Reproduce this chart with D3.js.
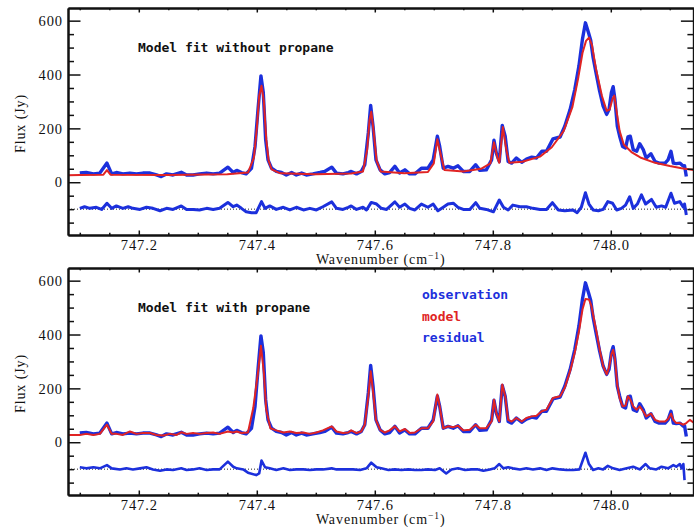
<!DOCTYPE html>
<html>
<head>
<meta charset="utf-8">
<script src="https://cdn.jsdelivr.net/npm/d3@7"></script>
<style>
  body { margin: 0; background: #fff; }
  svg { display: block; }
  .tick-label { font-family: "Liberation Serif", serif; font-size: 14.5px; letter-spacing: 0.9px; fill: #111; }
  .axis-title { font-family: "Liberation Serif", serif; font-size: 14px; letter-spacing: 0.9px; fill: #111; }
  .panel-title { font-family: "DejaVu Sans Mono", monospace; font-weight: bold; font-size: 13px; fill: #111; }
</style>
</head>
<body>
<svg id="chart" width="694" height="527"></svg>
<script>
// Axis ticks and text
const xMajorTicks = [747.2, 747.4, 747.6, 747.8, 748.0];
const yMajorTicks = [0, 200, 400, 600];
const panelTitles = ["Model fit without propane", "Model fit with propane"];
const legendLabels = ["observation", "model", "residual"];
const residualOffset = -100;

// Observed spectrum: [wavenumber (cm-1), flux (Jy)]
const observation = [
  [747.100,34],[747.111,36],[747.123,31],[747.134,34],[747.146,71],[747.154,31],[747.162,36],
  [747.173,31],[747.185,34],[747.196,31],[747.207,34],[747.219,34],[747.230,27],[747.238,21],
  [747.247,31],[747.258,27],[747.272,37],[747.281,27],[747.292,27],[747.303,31],[747.315,34],
  [747.326,31],[747.337,34],[747.351,56],[747.360,36],[747.366,44],[747.374,36],[747.382,31],
  [747.391,52],[747.397,133],[747.402,270],[747.407,395],[747.411,333],[747.415,158],[747.419,83],
  [747.425,52],[747.433,40],[747.442,36],[747.450,27],[747.459,36],[747.467,27],[747.476,34],
  [747.484,27],[747.495,31],[747.507,36],[747.515,40],[747.527,56],[747.535,34],[747.546,31],
  [747.555,36],[747.560,40],[747.569,31],[747.577,40],[747.583,65],[747.589,183],[747.593,285],
  [747.597,208],[747.602,83],[747.609,46],[747.617,31],[747.625,36],[747.634,59],[747.642,34],
  [747.651,46],[747.659,31],[747.668,31],[747.679,52],[747.690,52],[747.699,83],[747.706,171],
  [747.710,133],[747.716,52],[747.724,59],[747.733,52],[747.741,61],[747.750,40],[747.761,40],
  [747.771,65],[747.778,44],[747.789,46],[747.798,83],[747.802,156],[747.806,108],[747.811,77],
  [747.816,211],[747.821,171],[747.826,77],[747.832,71],[747.840,90],[747.849,74],[747.857,86],
  [747.866,93],[747.874,90],[747.883,115],[747.891,115],[747.902,161],[747.914,168],[747.922,208],
  [747.931,270],[747.939,345],[747.946,432],[747.952,532],[747.957,592],[747.962,557],[747.966,526],
  [747.970,463],[747.976,395],[747.981,339],[747.987,283],[747.993,252],[747.997,270],[748.001,333],
  [748.004,355],[748.007,308],[748.011,208],[748.015,171],[748.020,133],[748.025,127],[748.029,168],
  [748.033,171],[748.038,121],[748.044,115],[748.049,143],[748.055,121],[748.060,90],[748.068,106],
  [748.075,77],[748.082,71],[748.092,71],[748.097,83],[748.102,115],[748.106,71],[748.111,69],
  [748.117,71],[748.123,59],[748.125,61],[748.128,21]
];

// Model without propane
const modelNoPropane = [
  [747.080,26],[747.100,27],[747.140,28],[747.146,45],[747.152,28],[747.250,27],[747.350,30],
  [747.385,36],[747.395,90],[747.400,200],[747.404,320],[747.408,358],[747.412,300],[747.416,160],
  [747.420,80],[747.425,48],[747.440,33],[747.500,30],[747.560,32],[747.580,40],[747.587,120],
  [747.591,230],[747.594,262],[747.598,190],[747.603,80],[747.610,40],[747.650,33],[747.690,38],
  [747.700,70],[747.706,160],[747.712,100],[747.718,45],[747.750,40],[747.780,50],[747.796,70],
  [747.802,148],[747.808,90],[747.811,72],[747.817,205],[747.823,120],[747.828,72],[747.850,76],
  [747.880,95],[747.900,130],[747.920,190],[747.935,280],[747.945,390],[747.952,480],[747.958,525],
  [747.963,537],[747.968,510],[747.975,420],[747.985,320],[747.993,265],[747.998,270],[748.003,310],
  [748.006,322],[748.010,260],[748.015,190],[748.022,140],[748.035,112],[748.050,92],[748.075,72],
  [748.100,60],[748.120,52],[748.140,45]
];

// Residual without propane (offset by -100 Jy)
const residualNoPropane = [
  [747.100,-97],[747.108,-91],[747.117,-97],[747.128,-93],[747.137,-101],[747.146,-78],[747.154,-97],
  [747.162,-88],[747.173,-97],[747.182,-91],[747.190,-97],[747.202,-101],[747.213,-93],[747.224,-97],
  [747.236,-106],[747.247,-97],[747.258,-101],[747.272,-88],[747.281,-101],[747.292,-101],[747.303,-103],
  [747.315,-97],[747.326,-101],[747.337,-97],[747.351,-75],[747.360,-91],[747.366,-85],[747.374,-97],
  [747.382,-110],[747.391,-113],[747.399,-113],[747.408,-72],[747.414,-97],[747.422,-88],[747.433,-101],
  [747.445,-93],[747.456,-103],[747.467,-93],[747.479,-103],[747.490,-97],[747.501,-103],[747.512,-91],
  [747.527,-73],[747.535,-97],[747.546,-101],[747.555,-93],[747.560,-88],[747.569,-101],[747.580,-93],
  [747.586,-103],[747.594,-75],[747.603,-81],[747.611,-97],[747.620,-101],[747.634,-73],[747.642,-93],
  [747.651,-81],[747.659,-97],[747.668,-103],[747.679,-81],[747.690,-93],[747.699,-81],[747.707,-106],
  [747.716,-93],[747.724,-81],[747.733,-78],[747.741,-93],[747.750,-101],[747.761,-101],[747.771,-76],
  [747.778,-97],[747.789,-101],[747.801,-110],[747.811,-66],[747.818,-93],[747.826,-103],[747.834,-85],
  [747.846,-91],[747.857,-91],[747.868,-97],[747.880,-101],[747.891,-101],[747.901,-76],[747.911,-103],
  [747.922,-106],[747.936,-103],[747.943,-113],[747.950,-93],[747.957,-39],[747.963,-81],[747.970,-103],
  [747.979,-106],[747.987,-101],[747.995,-72],[748.003,-78],[748.010,-103],[748.018,-97],[748.025,-85],
  [748.032,-54],[748.038,-97],[748.045,-81],[748.052,-47],[748.059,-81],[748.069,-64],[748.077,-93],
  [748.086,-88],[748.093,-93],[748.102,-41],[748.108,-78],[748.117,-72],[748.123,-93],[748.125,-81],
  [748.128,-122]
];

// Model with propane
const modelPropane = [
  [747.080,27],[747.100,27],[747.111,31],[747.123,27],[747.134,31],[747.146,65],[747.154,31],
  [747.162,31],[747.173,27],[747.185,40],[747.196,31],[747.207,34],[747.219,34],[747.230,27],
  [747.241,25],[747.253,31],[747.264,27],[747.272,37],[747.281,31],[747.292,34],[747.303,31],
  [747.315,34],[747.326,36],[747.337,31],[747.351,40],[747.360,36],[747.366,40],[747.374,34],
  [747.385,36],[747.394,127],[747.402,258],[747.407,358],[747.412,258],[747.416,121],[747.423,52],
  [747.433,44],[747.445,36],[747.456,40],[747.467,34],[747.479,36],[747.490,31],[747.501,36],
  [747.512,44],[747.527,59],[747.535,40],[747.546,34],[747.555,36],[747.560,44],[747.569,34],
  [747.577,40],[747.583,65],[747.589,170],[747.593,264],[747.597,189],[747.602,83],[747.609,46],
  [747.617,36],[747.625,44],[747.634,59],[747.642,40],[747.651,49],[747.659,34],[747.668,36],
  [747.679,52],[747.690,52],[747.699,77],[747.706,177],[747.710,133],[747.716,52],[747.724,59],
  [747.733,56],[747.741,61],[747.750,44],[747.761,46],[747.771,65],[747.778,52],[747.789,52],
  [747.798,77],[747.802,158],[747.806,108],[747.811,77],[747.816,214],[747.821,171],[747.826,83],
  [747.832,77],[747.840,90],[747.849,77],[747.857,90],[747.866,96],[747.874,98],[747.883,115],
  [747.891,121],[747.902,164],[747.914,171],[747.922,202],[747.931,264],[747.939,333],[747.946,411],
  [747.952,493],[747.957,532],[747.963,530],[747.967,507],[747.976,407],[747.981,345],[747.987,283],
  [747.993,252],[747.997,277],[748.001,326],[748.004,343],[748.007,308],[748.011,214],[748.015,164],
  [748.020,133],[748.025,136],[748.029,171],[748.033,158],[748.038,133],[748.044,121],[748.049,133],
  [748.055,114],[748.060,96],[748.068,106],[748.075,83],[748.082,77],[748.092,77],[748.097,86],
  [748.102,106],[748.106,83],[748.111,71],[748.117,71],[748.123,65],[748.128,71],[748.134,83],
  [748.140,73]
];

// Residual with propane (offset by -100 Jy)
const residualPropane = [
  [747.100,-93],[747.111,-97],[747.123,-93],[747.134,-97],[747.146,-85],[747.154,-97],[747.168,-101],
  [747.179,-97],[747.190,-101],[747.202,-97],[747.213,-93],[747.224,-101],[747.236,-106],[747.247,-101],
  [747.258,-103],[747.272,-97],[747.281,-103],[747.292,-101],[747.303,-97],[747.315,-103],[747.326,-101],
  [747.337,-101],[747.351,-72],[747.360,-91],[747.366,-97],[747.377,-101],[747.385,-113],[747.399,-122],
  [747.404,-116],[747.408,-68],[747.414,-93],[747.422,-97],[747.433,-103],[747.445,-97],[747.456,-103],
  [747.467,-101],[747.479,-101],[747.490,-103],[747.501,-101],[747.512,-101],[747.527,-97],[747.535,-101],
  [747.546,-101],[747.555,-101],[747.563,-101],[747.575,-103],[747.586,-97],[747.594,-76],[747.603,-93],
  [747.611,-97],[747.623,-103],[747.634,-101],[747.645,-103],[747.657,-101],[747.668,-103],[747.679,-103],
  [747.690,-101],[747.702,-103],[747.710,-97],[747.721,-116],[747.730,-101],[747.741,-97],[747.753,-103],
  [747.764,-101],[747.775,-101],[747.784,-106],[747.795,-101],[747.803,-97],[747.811,-81],[747.818,-97],
  [747.826,-93],[747.834,-97],[747.846,-101],[747.857,-97],[747.868,-101],[747.880,-97],[747.891,-103],
  [747.901,-97],[747.914,-101],[747.925,-103],[747.936,-103],[747.947,-101],[747.957,-39],[747.963,-81],
  [747.970,-103],[747.979,-97],[747.987,-101],[747.995,-88],[748.004,-97],[748.015,-103],[748.027,-97],
  [748.038,-91],[748.049,-101],[748.059,-81],[748.066,-97],[748.077,-101],[748.086,-91],[748.097,-97],
  [748.106,-85],[748.111,-91],[748.117,-81],[748.120,-97],[748.123,-81],[748.125,-141]
];

const BLUE = "#1c30dc";
const RED = "#e02424";

const svg = d3.select("#chart");
const left = 68, right = 693.4;
const x = d3.scaleLinear().domain([747.08, 748.14]).range([left, right]);
const xMinorTicks = d3.range(747.1, 748.12, 0.05).map(v => +v.toFixed(2))
  .filter(v => !xMajorTicks.some(m => Math.abs(m - v) < 1e-6));
const yMinorTicks = d3.range(-150, 650, 50).filter(v => !yMajorTicks.includes(v));

const panels = [
  { top: 8, bottom: 235, title: panelTitles[0], model: modelNoPropane, residual: residualNoPropane, resWidth: 3, legend: false },
  { top: 268, bottom: 495, title: panelTitles[1], model: modelPropane, residual: residualPropane, resWidth: 2.6, legend: true }
];

panels.forEach((p, i) => {
  const y = d3.scaleLinear().domain([-196, 647]).range([p.bottom, p.top]);
  const g = svg.append("g");
  const clipId = "clip" + i;
  svg.append("clipPath").attr("id", clipId).append("rect")
    .attr("x", left).attr("y", p.top).attr("width", right - left).attr("height", p.bottom - p.top);

  const line = d3.line().x(d => x(d[0])).y(d => y(d[1]));
  const plot = g.append("g").attr("clip-path", `url(#${clipId})`);

  // zero-residual reference
  plot.append("line")
    .attr("x1", left).attr("x2", right)
    .attr("y1", y(residualOffset)).attr("y2", y(residualOffset))
    .attr("stroke", "#222").attr("stroke-width", 1).attr("stroke-dasharray", "1,2");

  plot.append("path").datum(p.residual).attr("d", line)
    .attr("fill", "none").attr("stroke", BLUE).attr("stroke-width", p.resWidth)
    .attr("stroke-linejoin", "round");
  plot.append("path").datum(observation).attr("d", line)
    .attr("fill", "none").attr("stroke", BLUE).attr("stroke-width", 3.4)
    .attr("stroke-linejoin", "round");
  plot.append("path").datum(p.model).attr("d", line)
    .attr("fill", "none").attr("stroke", RED).attr("stroke-width", 2)
    .attr("stroke-linejoin", "round");

  // axes: ticks on all four sides, pointing inward
  const styleAxis = sel => {
    sel.attr("font-family", null).attr("font-size", null);
    sel.selectAll(".domain").attr("stroke", "#111").attr("stroke-width", 2);
    sel.selectAll(".tick line").attr("stroke", "#111").attr("stroke-width", 1.5);
    sel.selectAll(".tick text").attr("class", "tick-label").attr("fill", "#111");
  };
  const xLen = 4.5, xMin = 2.3, yLen = 12.5, yMin = 6;

  g.append("g").attr("transform", `translate(0,${p.bottom})`)
    .call(d3.axisBottom(x).tickValues(xMajorTicks).tickSize(-xLen).tickSizeOuter(0).tickPadding(5).tickFormat(d3.format(".1f")))
    .call(styleAxis);
  g.append("g").attr("transform", `translate(0,${p.bottom})`)
    .call(d3.axisBottom(x).tickValues(xMinorTicks).tickSize(-xMin).tickSizeOuter(0).tickFormat(""))
    .call(styleAxis);
  g.append("g").attr("transform", `translate(0,${p.top})`)
    .call(d3.axisTop(x).tickValues(xMajorTicks).tickSize(-xLen).tickSizeOuter(0).tickFormat(""))
    .call(styleAxis);
  g.append("g").attr("transform", `translate(0,${p.top})`)
    .call(d3.axisTop(x).tickValues(xMinorTicks).tickSize(-xMin).tickSizeOuter(0).tickFormat(""))
    .call(styleAxis);

  g.append("g").attr("transform", `translate(${left},0)`)
    .call(d3.axisLeft(y).tickValues(yMajorTicks).tickSize(-yLen).tickSizeOuter(0).tickPadding(5).tickFormat(d3.format("d")))
    .call(styleAxis);
  g.append("g").attr("transform", `translate(${left},0)`)
    .call(d3.axisLeft(y).tickValues(yMinorTicks).tickSize(-yMin).tickSizeOuter(0).tickFormat(""))
    .call(styleAxis);
  g.append("g").attr("transform", `translate(${right},0)`)
    .call(d3.axisRight(y).tickValues(yMajorTicks).tickSize(-yLen).tickSizeOuter(0).tickFormat(""))
    .call(styleAxis);
  g.append("g").attr("transform", `translate(${right},0)`)
    .call(d3.axisRight(y).tickValues(yMinorTicks).tickSize(-yMin).tickSizeOuter(0).tickFormat(""))
    .call(styleAxis);

  // axis titles
  const xt = g.append("text").attr("class", "axis-title")
    .attr("x", (left + right) / 2).attr("y", p.bottom + 29).attr("text-anchor", "middle");
  xt.append("tspan").text("Wavenumber (cm");
  xt.append("tspan").attr("dy", -5).attr("font-size", "9.5px").text("\u22121");
  xt.append("tspan").attr("dy", 5).text(")");

  g.append("text").attr("class", "axis-title")
    .attr("transform", `translate(25,${(p.top + p.bottom) / 2 + 2}) rotate(-90)`)
    .attr("text-anchor", "middle").text("Flux (Jy)");

  g.append("text").attr("class", "panel-title")
    .attr("x", 138).attr("y", p.top + 44).text(p.title);

  if (p.legend) {
    const colors = [BLUE, RED, BLUE];
    legendLabels.forEach((lab, k) => {
      g.append("text").attr("class", "panel-title")
        .attr("x", 422).attr("y", p.top + 31 + k * 21.7)
        .style("fill", colors[k]).text(lab);
    });
  }
});
</script>
</body>
</html>
